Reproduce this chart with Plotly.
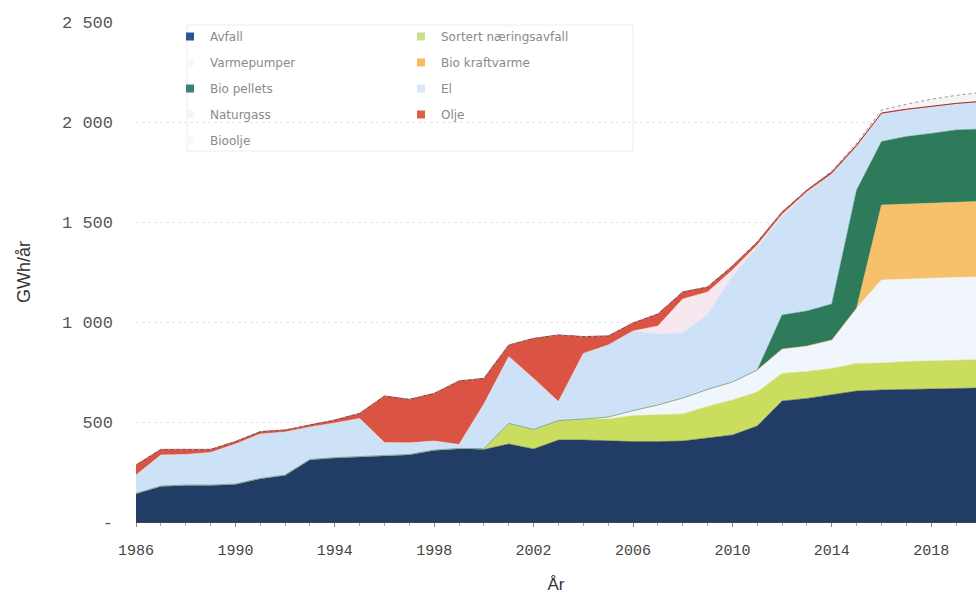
import plotly.graph_objects as go

years = list(range(1986, 2021))

avfall = [143, 180, 185, 185, 190, 218, 235, 313, 322, 327, 330, 338, 360, 368, 362,
          390, 365, 410, 410, 405, 402, 402, 405, 420, 435, 480, 605, 618, 635, 655,
          660, 663, 667, 668, 670]
sortert = [0, 0, 0, 0, 0, 0, 0, 0, 0, 0, 0, 0, 0, 0, 5,
           103, 98, 97, 105, 110, 130, 133, 135, 158, 175, 170, 138, 135, 133, 138,
           135, 139, 138, 142, 142]
varmepumper = [0, 0, 0, 0, 0, 0, 0, 0, 0, 0, 0, 0, 0, 0, 0,
               0, 0, 0, 0, 10, 25, 50, 80, 85, 90, 110, 122, 127, 142, 277,
               415, 413, 413, 413, 413]
bio_kraftvarme = [0] * 30 + [375, 375, 377, 377, 378]
bio_pellets = [0] * 26 + [170, 175, 180, 590, 317, 337, 348, 360, 362]
el = [92, 155, 153, 163, 200, 222, 215, 162, 173, 191, 67, 58, 45, 20, 223,
      334, 255, 95, 328, 360, 398, 355, 325, 377, 530, 615, 493, 590, 650, 217,
      138, 133, 132, 130, 135]
naturgass = [0] * 21 + [40, 170, 110, 30, 10, 10, 5, 0, 0, 0, 0, 0, 0, 0]
olje = [50, 28, 25, 15, 12, 12, 10, 10, 15, 25, 233, 217, 238, 317, 128,
        58, 200, 333, 84, 45, 40, 60, 35, 25, 20, 15, 12, 10, 10, 8,
        5, 4, 4, 3, 3]
bioolje = [0] * 28 + [5, 10, 15, 25, 35, 40, 45]

series = [
    ("Avfall", avfall, "#213d66", "#2b5597", "legend"),
    ("Sortert næringsavfall", sortert, "#cadd5e", "#c9e08a", "legend2"),
    ("Varmepumper", varmepumper, "#f1f6fc", "#f6f8fb", "legend"),
    ("Bio kraftvarme", bio_kraftvarme, "#f7c06a", "#f5bd62", "legend2"),
    ("Bio pellets", bio_pellets, "#2e7b5b", "#3a7f7a", "legend"),
    ("El", el, "#cde2f6", "#dde9f6", "legend2"),
    ("Naturgass", naturgass, "#f7e8ef", "#f8f4f6", "legend"),
    ("Olje", olje, "#db5343", "#d9604e", "legend2"),
    ("Bioolje", bioolje, "#f4f4f4", "#f8f8f8", "legend"),
]

line_colors = {
    "Olje": "#9a3127",
    "Bioolje": "#9a9a9a",
}

fig = go.Figure()

for name, vals, fillc, legc, leg in series:
    lc = line_colors.get(name, fillc)
    lw = 1 if name in line_colors else 0.5
    fig.add_trace(go.Scatter(
        x=years, y=vals, name=name, mode="lines",
        stackgroup="one", fillcolor=fillc,
        line=dict(color=lc, width=lw, dash="dot" if name == "Bioolje" else "solid"),
        showlegend=False, hoverinfo="x+y+name",
    ))

# legend entries (square swatches) in two columns
for i, (name, vals, fillc, legc, leg) in enumerate(series):
    fig.add_trace(go.Scatter(
        x=[None], y=[None], name=name, mode="markers",
        marker=dict(symbol="square", size=8, color=legc),
        legend=leg, legendgroup=f"g{i}", showlegend=True,
    ))

W, H = 976, 597
ml, mr, mt, mb = 136, 0, 22, 75
pw = W - ml - mr
ph = H - mt - mb

def px(xp):
    return (xp - ml) / pw

def py(yp):
    return (H - mb - yp) / ph

tickyears = list(range(1986, 2019, 4))
ytickvals = [0, 500, 1000, 1500, 2000, 2500]
yticktext = ["-", "500", "1 000", "1 500", "2 000", "2 500"]

legfont = dict(family="DejaVu Sans", size=12, color="#8a8a8a")

fig.update_layout(
    width=W, height=H,
    margin=dict(l=ml, r=mr, t=mt, b=mb, autoexpand=False),
    paper_bgcolor="white", plot_bgcolor="white",
    legend=dict(x=px(170), y=py(22), xanchor="left", yanchor="top",
                bgcolor="rgba(0,0,0,0)", font=legfont, tracegroupgap=7,
                traceorder="grouped"),
    legend2=dict(x=px(401), y=py(22), xanchor="left", yanchor="top",
                 bgcolor="rgba(0,0,0,0)", font=legfont, tracegroupgap=7,
                 traceorder="grouped"),
    xaxis=dict(
        range=[1986, 1986 + pw / 24.85],
        tickvals=tickyears,
        ticks="outside", ticklen=4, tickcolor="#888",
        minor=dict(dtick=1, tick0=1986, ticks="outside", ticklen=3, tickcolor="#aaa"),
        showline=True, linecolor="#444", linewidth=1,
        showgrid=False, zeroline=False, automargin=False,
        tickfont=dict(family="Liberation Mono", size=15, color="#444"),
        ticklabelstandoff=10,
        title=dict(text="År", font=dict(family="Liberation Sans", size=17, color="#333"),
                   standoff=19),
    ),
    yaxis=dict(
        range=[0, 2500],
        tickvals=ytickvals, ticktext=yticktext,
        ticks="", showline=False, zeroline=False, automargin=False,
        showgrid=True, gridcolor="#e6e6e6", griddash="dot",
        tickfont=dict(family="Liberation Mono", size=17, color="#555"),
        ticklabelstandoff=22,
        title=dict(text="GWh/år", font=dict(family="Liberation Sans", size=18, color="#333"),
                   standoff=26),
    ),
    shapes=[dict(type="rect", xref="paper", yref="paper",
                 x0=px(187), x1=px(633), y0=py(151), y1=py(25),
                 line=dict(color="#ececec", width=1), fillcolor="rgba(0,0,0,0)",
                 layer="above")],
)

fig.write_html(
    "out.html",
    config={"displayModeBar": False},
    post_script="document.body.style.margin='0';document.body.style.overflow='hidden';",
)
